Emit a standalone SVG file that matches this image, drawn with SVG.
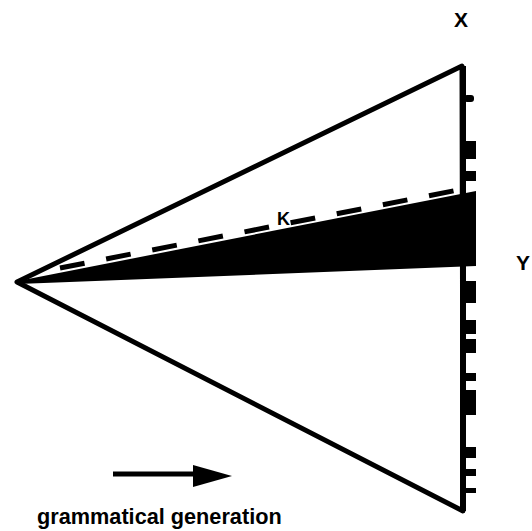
<svg xmlns="http://www.w3.org/2000/svg" width="532" height="531" viewBox="0 0 532 531">
<style>
.edge{fill:none;stroke:#000;stroke-width:5;stroke-linejoin:round;stroke-linecap:round}
.lbl{font-family:"Liberation Sans",Arial,sans-serif;font-weight:bold;fill:#000}
.tick{fill:#000}
</style>
<rect width="532" height="531" fill="#fff"/>
<g id="triangle">
<path class="edge" d="M17,282 L462,66 L463,511 Z"/>
<path d="M463,66 L463,511" stroke="#000" stroke-width="6" fill="none"/>
</g>
<g id="band">
<polygon points="18,281 476,191 476,266 18,284" fill="#000"/>
<path d="M60,268 L458,190" stroke="#000" stroke-width="5" stroke-dasharray="25,22" fill="none"/>
</g>
<g id="ticks">
<rect class="tick" x="464" y="95" width="10" height="7" rx="3"/>
<rect class="tick" x="464" y="141" width="12" height="18"/>
<rect class="tick" x="464" y="171" width="12" height="10"/>
<rect class="tick" x="464" y="281" width="12" height="22"/>
<rect class="tick" x="464" y="320" width="12" height="14"/>
<rect class="tick" x="464" y="339" width="12" height="14"/>
<rect class="tick" x="464" y="373" width="12" height="8"/>
<rect class="tick" x="464" y="390" width="12" height="25"/>
<rect class="tick" x="464" y="447" width="12" height="11"/>
<rect class="tick" x="464" y="469" width="12" height="7"/>
<rect class="tick" x="464" y="488" width="12" height="5"/>
</g>
<g id="connectors">
<path d="M113,474 L196,474" stroke="#000" stroke-width="5" fill="none"/>
<polygon points="193,465 232,476 193,487" fill="#000"/>
</g>
<g id="label-x"><text class="lbl" x="461" y="27" font-size="21" text-anchor="middle">X</text></g>
<g id="label-y"><text class="lbl" x="523" y="270" font-size="21" text-anchor="middle">Y</text></g>
<g id="label-k"><text class="lbl" x="277" y="225" font-size="18">K</text></g>
<g id="caption"><text class="lbl" x="37" y="524" font-size="21.7">grammatical generation</text></g>
</svg>
